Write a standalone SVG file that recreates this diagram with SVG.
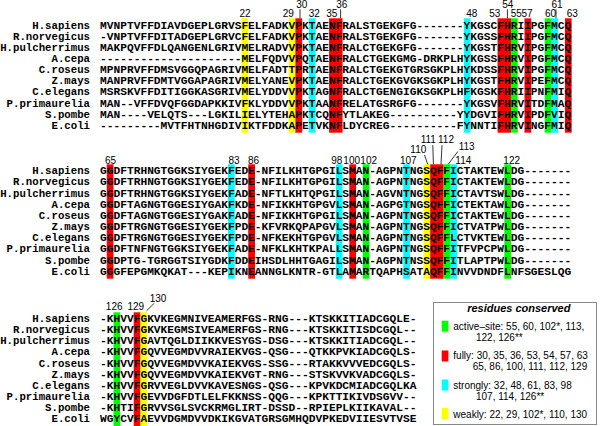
<svg xmlns="http://www.w3.org/2000/svg" width="600" height="426" viewBox="0 0 600 426">
<style>
.seq{font-family:"Liberation Mono","Courier New",monospace;font-weight:bold;font-size:11.23px;fill:#000}
.nm{font-family:"Liberation Mono","Courier New",monospace;font-weight:bold;font-size:10.7px;fill:#000;text-anchor:end}
.num{font-family:"Liberation Sans",Arial,sans-serif;font-size:10px;fill:#000;text-anchor:middle}
.leg{font-family:"Liberation Sans",Arial,sans-serif;font-size:10px;fill:#000}
.ttl{font-family:"Liberation Sans",Arial,sans-serif;font-size:11px;font-weight:bold;font-style:italic;text-anchor:middle}
.r{fill:#ff0000}.g{fill:#00ff00}.c{fill:#00ffff}.y{fill:#ffff00}
.tk{stroke:#000;stroke-width:0.8;fill:none}
</style>
<rect width="600" height="426" fill="#fff"/>

<g id="block1">
<g id="block1-highlights">
<rect class="y" x="241.50" y="18.3" width="6.74" height="114.4"/>
<rect class="y" x="288.66" y="18.3" width="6.74" height="114.4"/>
<rect class="r" x="295.40" y="18.3" width="6.74" height="114.4"/>
<rect class="c" x="308.88" y="18.3" width="6.74" height="114.4"/>
<rect class="r" x="329.09" y="18.3" width="13.48" height="114.4"/>
<rect class="c" x="463.85" y="18.3" width="6.74" height="114.4"/>
<rect class="r" x="497.54" y="18.3" width="13.48" height="114.4"/>
<rect class="g" x="511.02" y="18.3" width="6.74" height="114.4"/>
<rect class="r" x="524.49" y="18.3" width="6.74" height="114.4"/>
<rect class="g" x="544.71" y="18.3" width="6.74" height="114.4"/>
<rect class="c" x="551.45" y="18.3" width="6.74" height="114.4"/>
<rect class="r" x="564.92" y="18.3" width="6.74" height="114.4"/>
</g>
<g id="block1-numbers">
<text class="num" x="245" y="17.3">22</text>
<text class="num" x="288.2" y="17.3">29</text>
<text class="num" x="314.2" y="17.3">32</text>
<text class="num" x="331.8" y="17.3">35</text>
<text class="num" x="471.7" y="17.3">48</text>
<text class="num" x="494.7" y="17.3">53</text>
<text class="num" x="516.3" y="17.3">55</text>
<text class="num" x="527" y="17.3">57</text>
<text class="num" x="550.5" y="17.3">60</text>
<text class="num" x="572.2" y="17.3">63</text>
<text class="num" x="301.8" y="8">30</text>
<text class="num" x="341.7" y="8">36</text>
<text class="num" x="507.8" y="8">54</text>
<text class="num" x="557" y="8">61</text>
<path class="tk" d="M300 9.3V18.3M340.6 9.3V18.3M507.4 9.3V18.3M556 9.3V18.3"/>
</g>
<g id="block1-names">
<text class="nm" x="90" y="28.5">H.sapiens</text>
<text class="nm" x="90" y="39.65">R.norvegicus</text>
<text class="nm" x="90" y="50.8">H.pulcherrimus</text>
<text class="nm" x="90" y="61.95">A.cepa</text>
<text class="nm" x="90" y="73.1">C.roseus</text>
<text class="nm" x="90" y="84.25">Z.mays</text>
<text class="nm" x="90" y="95.4">C.elegans</text>
<text class="nm" x="90" y="106.55">P.primaurelia</text>
<text class="nm" x="90" y="117.7">S.pombe</text>
<text class="nm" x="90" y="128.85">E.coli</text>
</g>
<g id="block1-seqs">
<text class="seq" x="100" y="28.5">MVNPTVFFDIAVDGEPLGRVSFELFADKVPKTAENFRALSTGEKGFG-------YKGSCFHRIIPGFMCQ</text>
<text class="seq" x="100" y="39.65">-VNPTVFFDITADGEPLGRVCFELFADKVPKTAENFRALSTGEKGFG-------YKGSSFHRIIPGFMCQ</text>
<text class="seq" x="100" y="50.8">MAKPQVFFDLQANGENLGRIVMELRADVVPKTAENFRALCTGEKGFG-------YKGSTFHRVIPGFMCQ</text>
<text class="seq" x="100" y="61.95">---------------------MELFQDVVPQTAENFRALCTGEKGMG-DRKPLHYKGSSFHRVIPGFMCQ</text>
<text class="seq" x="100" y="73.1">MPNPRVFFDMSVGGQPAGRIVMELFADTTPRTAENFRALCTGEKGTGRSGKPLHYKDSSFHRVIPGFMCQ</text>
<text class="seq" x="100" y="84.25">MANPRVFFDMTVGGAPAGRIVMELYANEVPKTAENFRALCTGEKGVGKSGKPLHYKGSTFHRVIPEFMCQ</text>
<text class="seq" x="100" y="95.4">MSRSKVFFDITIGGKASGRIVMELYDDVVPKTAGNFRALCTGENGIGKSGKPLHFKGSKFHRIIPNFMIQ</text>
<text class="seq" x="100" y="106.55">MAN--VFFDVQFGGDAPKKIVFKLYDDVVPKTAANFRELATGSRGFG-------YKGSVFHRVITDFMAQ</text>
<text class="seq" x="100" y="117.7">MAN----VELQTS---LGKILIELYTEHAPKTCQNFYTLAKEG----------YYDGVIFHRVIPDFVIQ</text>
<text class="seq" x="100" y="128.85">---------MVTFHTNHGDIVIKTFDDKAPETVKNFLDYCREG----------FYNNTIFHRVINGFMIQ</text>
</g>
</g>

<g id="block2">
<g id="block2-highlights">
<rect class="r" x="106.74" y="164.3" width="6.74" height="114.4"/>
<rect class="c" x="228.02" y="164.3" width="6.74" height="114.4"/>
<rect class="r" x="248.24" y="164.3" width="6.74" height="114.4"/>
<rect class="c" x="335.83" y="164.3" width="6.74" height="114.4"/>
<rect class="r" x="349.31" y="164.3" width="6.74" height="114.4"/>
<rect class="g" x="362.78" y="164.3" width="6.74" height="114.4"/>
<rect class="c" x="403.21" y="164.3" width="6.74" height="114.4"/>
<rect class="y" x="423.42" y="164.3" width="6.74" height="114.4"/>
<rect class="r" x="430.16" y="164.3" width="13.48" height="114.4"/>
<rect class="g" x="443.64" y="164.3" width="6.74" height="114.4"/>
<rect class="c" x="450.38" y="164.3" width="6.74" height="114.4"/>
<rect class="g" x="504.28" y="164.3" width="6.74" height="114.4"/>
</g>
<g id="block2-numbers">
<text class="num" x="110.5" y="163.5">65</text>
<text class="num" x="234" y="163.5">83</text>
<text class="num" x="253.5" y="163.5">86</text>
<text class="num" x="336.7" y="163.5">98</text>
<text class="num" x="351.7" y="163.5">100</text>
<text class="num" x="368.7" y="163.5">102</text>
<text class="num" x="408.3" y="163.5">107</text>
<text class="num" x="463.3" y="163.5">114</text>
<text class="num" x="511.7" y="163.5">122</text>
<text class="num" x="418.3" y="153.3">110</text>
<text class="num" x="428.3" y="143.3">111</text>
<text class="num" x="446" y="143.3">112</text>
<text class="num" x="466.7" y="150">113</text>
<path class="tk" d="M424.5 155L427.7 164.3M432.8 145.2L433.4 164.3M442 145.2L441 164.3M457.8 151.5L448.2 164.3"/>
</g>
<g id="block2-names">
<text class="nm" x="90" y="174.3">H.sapiens</text>
<text class="nm" x="90" y="185.45">R.norvegicus</text>
<text class="nm" x="90" y="196.6">H.pulcherrimus</text>
<text class="nm" x="90" y="207.75">A.cepa</text>
<text class="nm" x="90" y="218.9">C.roseus</text>
<text class="nm" x="90" y="230.05">Z.mays</text>
<text class="nm" x="90" y="241.2">C.elegans</text>
<text class="nm" x="90" y="252.35">P.primaurelia</text>
<text class="nm" x="90" y="263.5">S.pombe</text>
<text class="nm" x="90" y="274.65">E.coli</text>
</g>
<g id="block2-seqs">
<text class="seq" x="100" y="174.3">GGDFTRHNGTGGKSIYGEKFEDE-NFILKHTGPGILSMAN-AGPNTNGSQFFICTAKTEWLDG-------</text>
<text class="seq" x="100" y="185.45">GGDFTRHNGTGGKSIYGEKFEDE-NFILKHTGPGILSMAN-AGPNTNGSQFFICTAKTEWLDG-------</text>
<text class="seq" x="100" y="196.6">GGDFTRHNGTGGKSIYGEKFADE-NFTLKHTQPGILSMAN-AGVNTNGSQFFICTAVTSWLDG-------</text>
<text class="seq" x="100" y="207.75">GGDFTAGNGTGGESIYGAKFKDE-NFIKKHTGPGVLSMAN-AGPGTNGSQFFICTEKTAWLDG-------</text>
<text class="seq" x="100" y="218.9">GGDFTAGNGTGGESIYGAKFADE-NFIKKHTGPGILSMAN-AGPNTNGSQFFICTAKTEWLDG-------</text>
<text class="seq" x="100" y="230.05">GGDFTRGNGTGGESIYGEKFPDE-KFVRKQPAPGVLSMAN-AGPNTNGSQFFICTVATPWLDG-------</text>
<text class="seq" x="100" y="241.2">GGDFTRGNGTGGESIYGEKFPDE-NFKEKHTGPGVLSMAN-AGPNTNGSQFFLCTVKTEWLDG-------</text>
<text class="seq" x="100" y="252.35">GGDFTNFNGTGGKSIYGEKFADE-NFKLKHTKPALLSMAN-AGPNTNGSQFFITFVPCPWLDG-------</text>
<text class="seq" x="100" y="263.5">GGDPTG-TGRGGTSIYGDKFDDEIHSDLHHTGAGILSMAN-AGPNTNSSQFFITLAPTPWLDG-------</text>
<text class="seq" x="100" y="274.65">GGGFEPGMKQKAT---KEPIKNEANNGLKNTR-GTLAMARTQAPHSATAQFFINVVDNDFLNFSGESLQG</text>
</g>
</g>

<g id="block3">
<g id="block3-highlights">
<rect class="g" x="113.48" y="312.3" width="6.74" height="114"/>
<rect class="r" x="133.69" y="312.3" width="6.74" height="114"/>
<rect class="y" x="140.43" y="312.3" width="6.74" height="114"/>
</g>
<g id="block3-numbers">
<text class="num" x="114.2" y="310">126</text>
<text class="num" x="135.8" y="310">129</text>
<text class="num" x="158" y="301.7">130</text>
<path class="tk" d="M154.3 303.2L146.6 310.8"/>
</g>
<g id="block3-names">
<text class="nm" x="90" y="322">H.sapiens</text>
<text class="nm" x="90" y="333.15">R.norvegicus</text>
<text class="nm" x="90" y="344.3">H.pulcherrimus</text>
<text class="nm" x="90" y="355.45">A.cepa</text>
<text class="nm" x="90" y="366.6">C.roseus</text>
<text class="nm" x="90" y="377.75">Z.mays</text>
<text class="nm" x="90" y="388.9">C.elegans</text>
<text class="nm" x="90" y="400.05">P.primaurelia</text>
<text class="nm" x="90" y="411.2">S.pombe</text>
<text class="nm" x="90" y="422.35">E.coli</text>
</g>
<g id="block3-seqs">
<text class="seq" x="100" y="322">-KHVVFGKVKEGMNIVEAMERFGS-RNG---KTSKKITIADCGQLE-</text>
<text class="seq" x="100" y="333.15">-KHVVFGKVKEGMSIVEAMERFGS-RNG---KTSKKITISDCGQL--</text>
<text class="seq" x="100" y="344.3">-KHVVFGAVTQGLDIIKKVESYGS-DSG---KTSKKITIADCGQL--</text>
<text class="seq" x="100" y="355.45">-KHVVFGQVVEGMDVVRAIEKVGS-QSG---QTKKPVKIADCGQLS-</text>
<text class="seq" x="100" y="366.6">-KHVVFGQVVEGMDVVKAIEKVGS-SSG---RTAKKVVVEDCGQLS-</text>
<text class="seq" x="100" y="377.75">-KHVVFGQVVEGMDVVKAIEKVGT-RNG---STSKVVKVADCGQLS-</text>
<text class="seq" x="100" y="388.9">-KHVVFGRVVEGLDVVKAVESNGS-QSG---KPVKDCMIADCGQLKA</text>
<text class="seq" x="100" y="400.05">-KHVVFGEVVDGFDTLELFKKNSS-QQG---KPKTTIKIVDSGVV--</text>
<text class="seq" x="100" y="411.2">-KHTIFGRVVSGLSVCKRMGLIRT-DSSD--RPIEPLKIIKAVAL--</text>
<text class="seq" x="100" y="422.35">WGYCVFAEVVDGMDVVDKIKGVATGRSGMHQDVPKEDVIIESVTVSE</text>
</g>
</g>

<g id="legend">
<rect x="433.5" y="302.5" width="163" height="122" fill="#fff" stroke="#888" stroke-width="1"/>
<text class="ttl" x="518.8" y="312">residues conserved</text>
<rect class="g" x="441.7" y="320.7" width="6.7" height="11"/>
<text class="leg" x="453.3" y="329.5">active–site: 55, 60, 102*, 113,</text>
<text class="leg" x="476" y="341">122, 126**</text>
<rect class="r" x="441.7" y="350.5" width="6.7" height="11"/>
<text class="leg" x="453.3" y="358.5">fully: 30, 35, 36, 53, 54, 57, 63</text>
<text class="leg" x="472.7" y="370">65, 86, 100, 111, 112, 129</text>
<rect class="c" x="441.7" y="379.5" width="6.7" height="11"/>
<text class="leg" x="453.3" y="388.5">strongly: 32, 48, 61, 83, 98</text>
<text class="leg" x="476" y="400">107, 114, 126**</text>
<rect class="y" x="441.7" y="408" width="6.7" height="11"/>
<text class="leg" x="453.3" y="418">weakly: 22, 29, 102*, 110, 130</text>
</g>
</svg>
